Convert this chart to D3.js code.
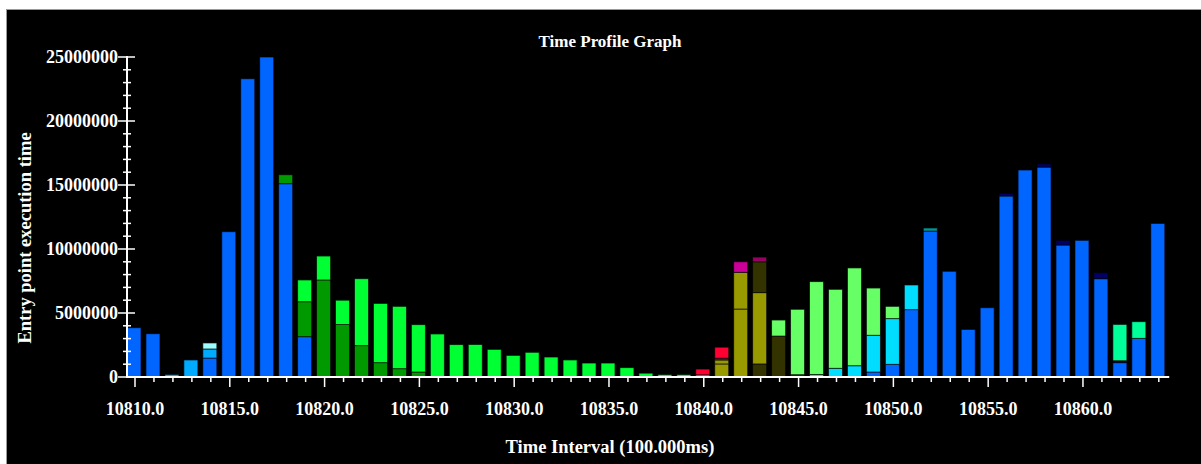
<!DOCTYPE html>
<html lang="en">
<head>
    <meta charset="UTF-8">
    <title>Time Profile Graph</title>
    <script src="https://d3js.org/d3.v7.min.js"></script>
    <style>
        body {
            margin: 0;
            background: #fff;
            overflow: hidden;
        }

        text {
            font-family: 'Liberation Serif', 'DejaVu Serif', serif;
            font-weight: bold;
            fill: #fff;
        }

        .tick-label {
            font-size: 18px;
        }

        .axis-line {
            stroke: #fff;
            stroke-width: 2;
        }

        .tick-line {
            stroke: #fff;
            stroke-width: 1.5;
        }
    </style>
</head>
<body>
    <div id="chart"></div>

    <script>
        // Time intervals (x categories)
        const intervals = [
            10810, 10811, 10812, 10813, 10814, 10815, 10816, 10817, 10818, 10819,
            10820, 10821, 10822, 10823, 10824, 10825, 10826, 10827, 10828, 10829,
            10830, 10831, 10832, 10833, 10834, 10835, 10836, 10837, 10838, 10839,
            10840, 10841, 10842, 10843, 10844, 10845, 10846, 10847, 10848, 10849,
            10850, 10851, 10852, 10853, 10854, 10855, 10856, 10857, 10858, 10859,
            10860, 10861, 10862, 10863, 10864
        ];

        // Entry point execution time per interval, one list per entry point, [interval, value]
        const blue = [
            [10810, 3850000], [10811, 3380000], [10814, 1480000], [10815, 11350000],
            [10816, 23300000], [10817, 25000000], [10818, 15100000], [10819, 3150000],
            [10849, 390000], [10850, 990000], [10851, 5260000], [10852, 11400000],
            [10853, 8260000], [10854, 3720000], [10855, 5410000], [10856, 14140000],
            [10857, 16170000], [10858, 16400000], [10859, 10310000], [10860, 10680000],
            [10861, 7680000], [10862, 1120000], [10863, 3020000], [10864, 12000000]
        ];
        const navy = [[10856, 210000], [10858, 240000], [10859, 370000], [10861, 470000], [10862, 150000]];
        const teal = [[10852, 240000]];
        const azure = [[10812, 200000], [10813, 1330000], [10814, 710000]];
        const paleCyan = [[10814, 470000]];
        const cyan = [[10846, 200000], [10847, 680000], [10848, 880000], [10849, 2870000], [10850, 3570000], [10851, 1930000]];
        const darkOliveA = [[10843, 1020000], [10844, 3200000], [10845, 180000]];
        const olive = [[10841, 1020000], [10842, 5310000], [10843, 5570000]];
        const olive2 = [[10841, 310000], [10842, 2870000]];
        const darkOliveB = [[10843, 2410000]];
        const purple = [[10841, 140000], [10843, 370000]];
        const magenta = [[10842, 820000]];
        const darkGreen = [
            [10818, 700000], [10819, 2730000], [10820, 7580000], [10821, 4100000],
            [10822, 2450000], [10823, 1120000], [10824, 650000], [10825, 390000]
        ];
        const green = [
            [10819, 1700000], [10820, 1870000], [10821, 1900000], [10822, 5230000],
            [10823, 4630000], [10824, 4870000], [10825, 3700000], [10826, 3360000],
            [10827, 2530000], [10828, 2540000], [10829, 2160000], [10830, 1690000],
            [10831, 1930000], [10832, 1560000], [10833, 1330000], [10834, 1090000],
            [10835, 1090000], [10836, 730000], [10837, 300000], [10838, 190000],
            [10839, 190000], [10840, 170000]
        ];
        const red = [[10840, 450000], [10841, 860000]];
        const lightGreen = [
            [10844, 1250000], [10845, 5110000], [10846, 7250000], [10847, 6170000],
            [10848, 7640000], [10849, 3690000], [10850, 960000]
        ];
        const springGreen = [[10862, 2840000], [10863, 1300000]];

        // Stack order, bottom to top
        const seriesList = [
            { key: 'blue', values: blue, color: '#0066ff' },
            { key: 'navy', values: navy, color: '#000066' },
            { key: 'teal', values: teal, color: '#009999' },
            { key: 'azure', values: azure, color: '#00aaff' },
            { key: 'paleCyan', values: paleCyan, color: '#99ffff' },
            { key: 'cyan', values: cyan, color: '#00ddff' },
            { key: 'darkOliveA', values: darkOliveA, color: '#333300' },
            { key: 'olive', values: olive, color: '#999900' },
            { key: 'olive2', values: olive2, color: '#999900' },
            { key: 'darkOliveB', values: darkOliveB, color: '#333300' },
            { key: 'purple', values: purple, color: '#990066' },
            { key: 'magenta', values: magenta, color: '#cc0099' },
            { key: 'darkGreen', values: darkGreen, color: '#009900' },
            { key: 'green', values: green, color: '#00ff33' },
            { key: 'red', values: red, color: '#ff0033' },
            { key: 'lightGreen', values: lightGreen, color: '#66ff66' },
            { key: 'springGreen', values: springGreen, color: '#00ff99' }
        ];

        const yMajorTicks = [0, 5000000, 10000000, 15000000, 20000000, 25000000];
        const xMajorTicks = [10810, 10815, 10820, 10825, 10830, 10835, 10840, 10845, 10850, 10855, 10860];

        const width = 1201;
        const height = 464;

        // Table for d3.stack
        const table = intervals.map(t => {
            const row = { interval: t };
            seriesList.forEach(s => {
                const hit = s.values.find(v => v[0] === t);
                row[s.key] = hit ? hit[1] : 0;
            });
            return row;
        });

        const stacked = d3.stack()
            .keys(seriesList.map(s => s.key))
            .order(d3.stackOrderNone)
            .offset(d3.stackOffsetNone)(table);

        const svg = d3.select('#chart')
            .append('svg')
            .attr('width', width)
            .attr('height', height);

        // Black panel
        svg.append('rect')
            .attr('x', 6.5)
            .attr('y', 9.5)
            .attr('width', width)
            .attr('height', height)
            .attr('fill', '#000')
            .attr('stroke', '#999')
            .attr('stroke-width', 1);

        const x = d3.scaleLinear().domain([10810, 10864]).range([135, 1158.8]);
        const y = d3.scaleLinear().domain([0, 25000000]).range([377, 57]);

        // Bars
        const barW = 14;
        const layers = svg.append('g');
        stacked.forEach((layer, li) => {
            layers.append('g')
                .selectAll('rect')
                .data(layer.filter(d => d[1] - d[0] > 0))
                .enter().append('rect')
                .attr('x', d => x(d.data.interval) - 1 - barW / 2)
                .attr('y', d => y(d[1]))
                .attr('width', barW)
                .attr('height', d => y(d[0]) - y(d[1]))
                .attr('fill', seriesList[li].color)
                .attr('stroke', '#000')
                .attr('stroke-opacity', 0.7)
                .attr('stroke-width', 0.9);
        });

        // Y axis
        const yAxis = svg.append('g');
        yAxis.append('line')
            .attr('class', 'axis-line')
            .attr('x1', 127).attr('x2', 127)
            .attr('y1', y(0) + 1).attr('y2', y(25000000) - 1);

        yAxis.selectAll('.minor')
            .data(d3.range(0, 25000001, 1000000).filter(v => v % 5000000 !== 0))
            .enter().append('line')
            .attr('class', 'tick-line')
            .attr('x1', 123).attr('x2', 131)
            .attr('y1', d => y(d)).attr('y2', d => y(d));

        yAxis.selectAll('.major')
            .data(yMajorTicks)
            .enter().append('line')
            .attr('class', 'tick-line')
            .attr('x1', 118).attr('x2', 135)
            .attr('y1', d => y(d)).attr('y2', d => y(d));

        yAxis.selectAll('.ylabel')
            .data(yMajorTicks)
            .enter().append('text')
            .attr('class', 'tick-label')
            .attr('x', 118)
            .attr('y', d => y(d))
            .attr('dy', '0.35em')
            .attr('text-anchor', 'end')
            .text(d => d);

        // X axis
        const xAxis = svg.append('g');
        xAxis.append('line')
            .attr('class', 'axis-line')
            .attr('x1', x(10809.58)).attr('x2', x(10864.55))
            .attr('y1', 377).attr('y2', 377);

        xAxis.selectAll('.minor')
            .data(intervals.filter(v => (v - 10810) % 5 !== 0))
            .enter().append('line')
            .attr('class', 'tick-line')
            .attr('x1', d => x(d)).attr('x2', d => x(d))
            .attr('y1', 377).attr('y2', 382);

        xAxis.selectAll('.major')
            .data(xMajorTicks)
            .enter().append('line')
            .attr('class', 'tick-line')
            .attr('x1', d => x(d)).attr('x2', d => x(d))
            .attr('y1', 377).attr('y2', 387);

        xAxis.selectAll('.xlabel')
            .data(xMajorTicks)
            .enter().append('text')
            .attr('class', 'tick-label')
            .attr('x', d => x(d))
            .attr('y', 415)
            .attr('text-anchor', 'middle')
            .text(d => d.toFixed(1));

        // Titles
        svg.append('text')
            .attr('x', 610)
            .attr('y', 47)
            .attr('text-anchor', 'middle')
            .style('font-size', '17px')
            .text('Time Profile Graph');

        svg.append('text')
            .attr('x', 610)
            .attr('y', 453)
            .attr('text-anchor', 'middle')
            .style('font-size', '18.5px')
            .text('Time Interval (100.000ms)');

        svg.append('text')
            .attr('transform', 'translate(31,238) rotate(-90)')
            .attr('text-anchor', 'middle')
            .style('font-size', '18.5px')
            .text('Entry point execution time');
    </script>
</body>
</html>
